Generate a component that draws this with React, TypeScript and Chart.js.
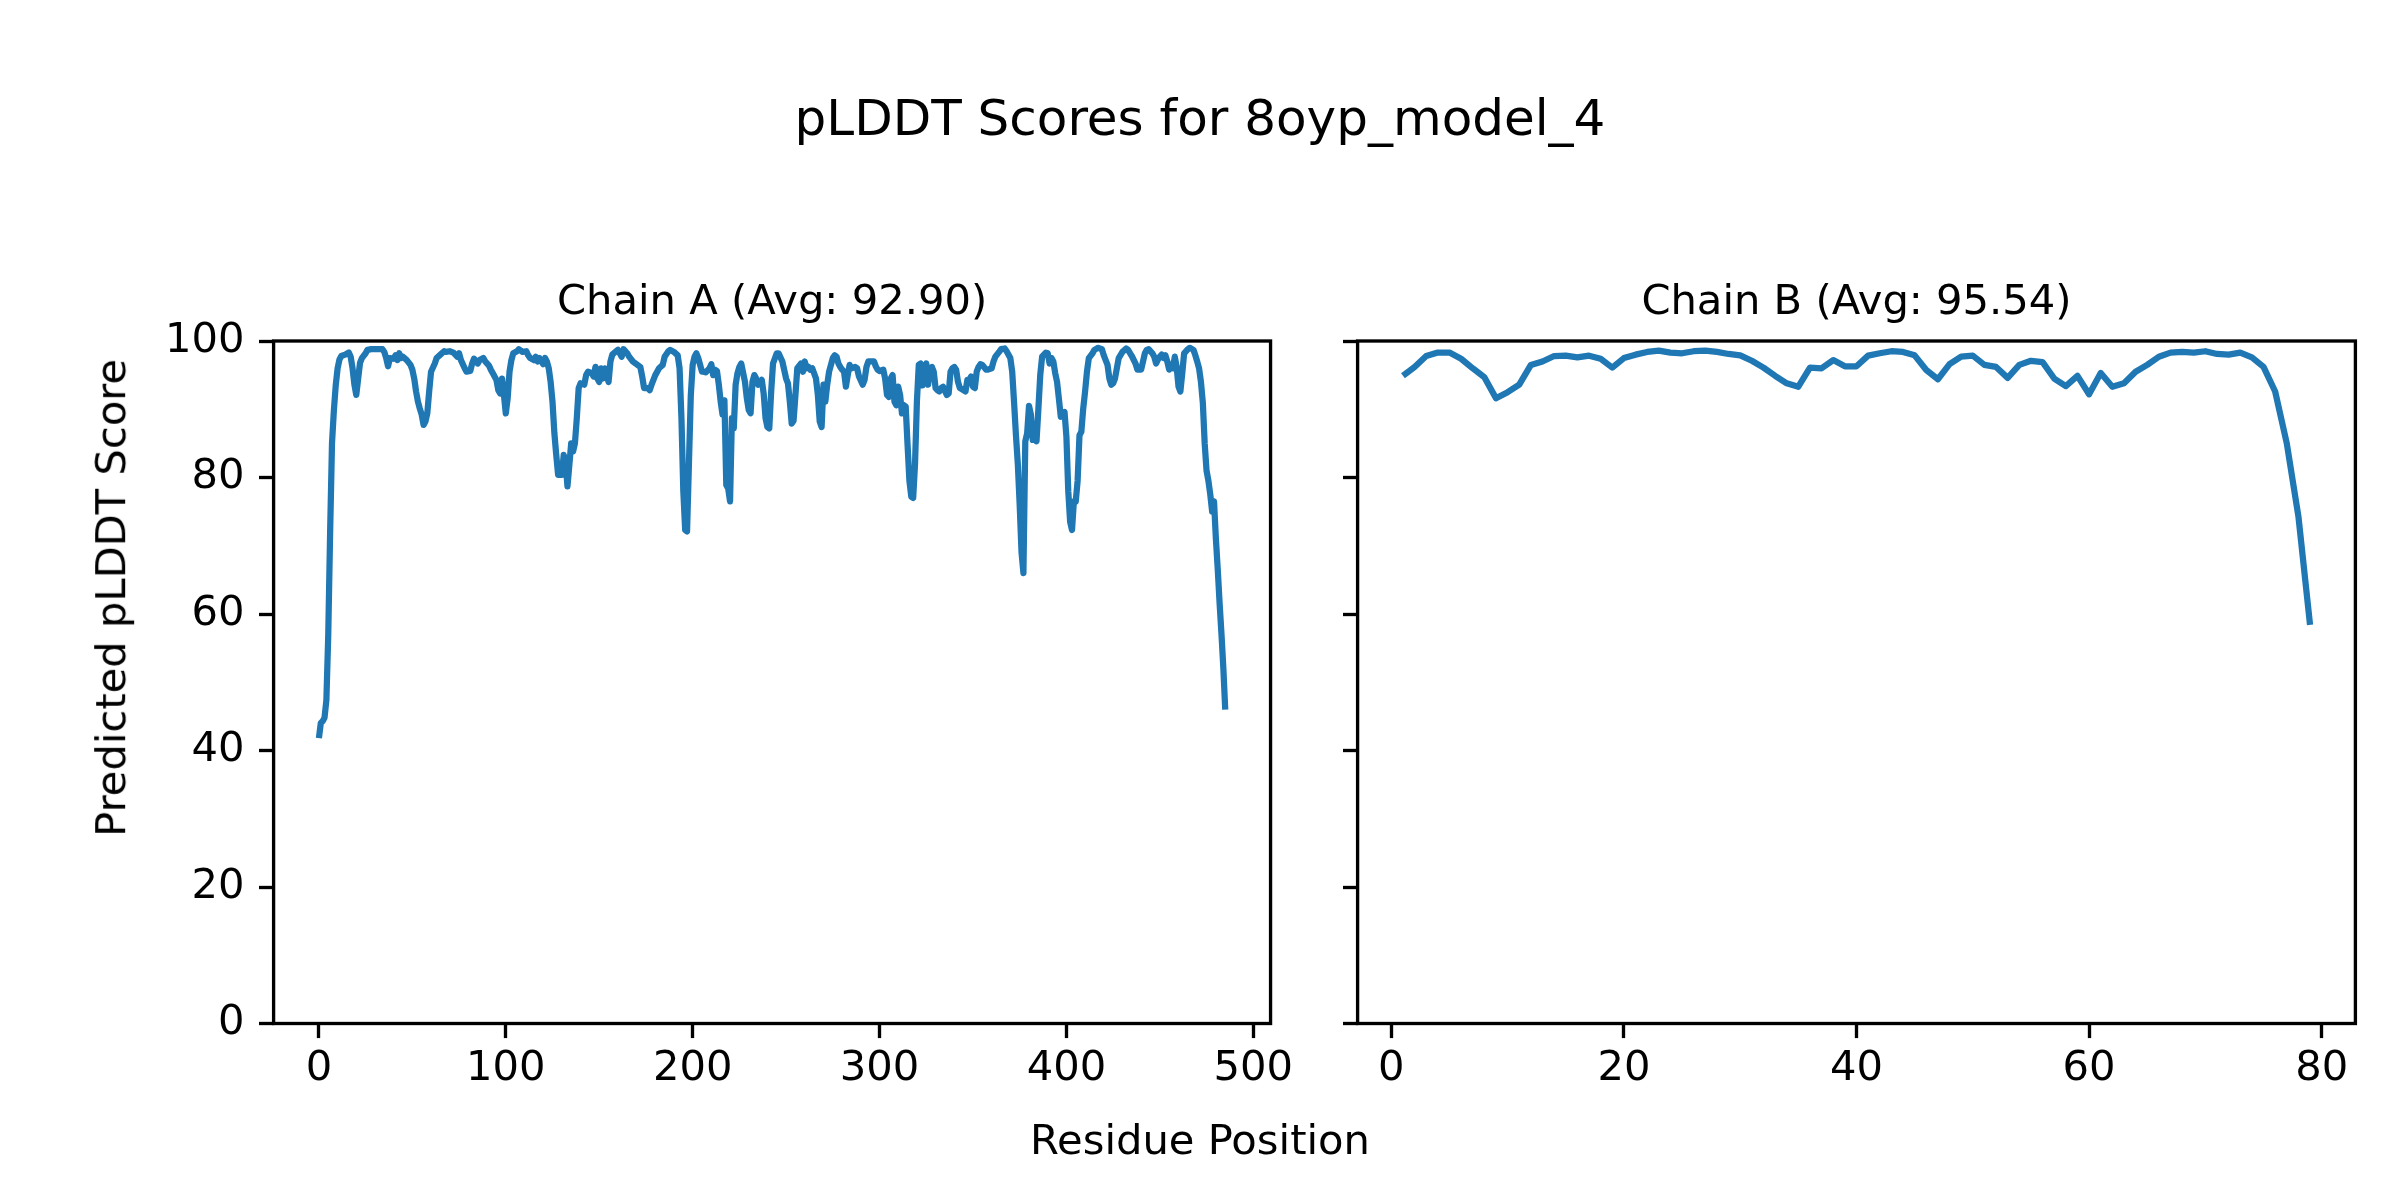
import React, { useEffect, useRef } from "react";
import { Chart, registerables } from "chart.js";

Chart.register(...registerables);

const FIG_TITLE = "pLDDT Scores for 8oyp_model_4";
const X_LABEL = "Residue Position";
const Y_LABEL = "Predicted pLDDT Score";
const chainTitles = ["Chain A (Avg: 92.90)", "Chain B (Avg: 95.54)"];
const yTicks = [0, 20, 40, 60, 80, 100];
const xTicksA = [0, 100, 200, 300, 400, 500];
const xTicksB = [0, 20, 40, 60, 80];

// Chain A: [residue position, pLDDT]
const chainA: [number, number][] = [
  [0, 41.8], [1, 44.0], [2, 44.3], [3, 44.8], [4, 47.4], [5, 57.0], [6, 72.0], [7, 85.0], [8, 89.8], [9, 93.5],
  [10, 96.0], [11, 97.3], [12, 97.8], [14, 98.0], [16, 98.3], [17, 97.7], [18, 96.0], [19, 93.6], [20, 92.1], [21, 94.5],
  [22, 96.8], [23, 97.5], [25, 98.2], [26, 98.7], [28, 98.8], [31, 98.8], [34, 98.8], [35, 98.4], [36, 97.5], [37, 96.3],
  [38, 97.5], [40, 97.4], [41, 97.9], [42, 97.2], [43, 98.2], [44, 97.5], [45, 97.7], [47, 97.2], [49, 96.5], [50, 95.8],
  [51, 94.5], [52, 92.6], [53, 91.1], [54, 90.1], [55, 89.2], [56, 87.7], [57, 88.2], [58, 89.4], [59, 92.6], [60, 95.5],
  [62, 96.7], [63, 97.5], [65, 98.0], [67, 98.5], [68, 98.4], [70, 98.5], [72, 98.3], [74, 97.7], [75, 98.2], [76, 97.2],
  [78, 96.0], [79, 95.5], [81, 95.6], [82, 96.7], [83, 97.4], [85, 96.7], [86, 97.2], [88, 97.5], [89, 97.0], [91, 96.4],
  [92, 95.8], [93, 95.3], [95, 94.3], [96, 92.8], [97, 92.3], [98, 94.5], [99, 92.1], [100, 89.4], [101, 91.6], [102, 95.5],
  [103, 97.2], [104, 98.2], [106, 98.5], [107, 98.8], [109, 98.4], [111, 98.5], [112, 97.9], [113, 97.5], [115, 97.2], [116, 97.7],
  [117, 97.0], [118, 97.5], [120, 96.6], [121, 97.5], [122, 97.0], [123, 96.0], [124, 94.0], [125, 91.1], [126, 86.5], [127, 83.3],
  [128, 80.4], [130, 80.4], [131, 83.3], [132, 82.3], [133, 78.7], [134, 81.8], [135, 85.0], [136, 83.8], [137, 85.0], [138, 88.7],
  [139, 93.1], [140, 93.8], [142, 93.6], [143, 95.0], [144, 95.5], [146, 95.3], [147, 94.8], [148, 96.2], [149, 94.5], [150, 94.0],
  [151, 96.0], [152, 94.5], [153, 96.0], [155, 94.0], [156, 97.0], [157, 98.0], [159, 98.5], [160, 98.7], [162, 97.7], [163, 98.8],
  [165, 98.2], [166, 97.7], [168, 97.0], [170, 96.6], [172, 96.2], [173, 94.8], [174, 93.1], [176, 93.1], [177, 92.8], [178, 93.6],
  [180, 95.0], [181, 95.5], [182, 96.0], [184, 96.5], [185, 97.7], [187, 98.5], [188, 98.7], [190, 98.4], [192, 97.9], [193, 96.0],
  [194, 88.7], [195, 78.0], [196, 72.3], [197, 72.1], [198, 82.0], [199, 92.0], [200, 96.5], [201, 97.7], [202, 98.2], [203, 97.5],
  [205, 95.5], [206, 95.5], [207, 95.4], [209, 96.0], [210, 96.6], [211, 95.0], [212, 95.8], [213, 95.6], [214, 93.6], [215, 91.1],
  [216, 89.2], [217, 91.3], [218, 78.9], [219, 78.4], [220, 76.5], [221, 88.7], [222, 87.2], [223, 93.6], [224, 95.3], [225, 96.2],
  [226, 96.7], [228, 94.0], [229, 91.6], [230, 89.9], [231, 89.4], [232, 94.0], [233, 95.0], [234, 94.5], [235, 93.6], [237, 94.3],
  [238, 92.3], [239, 88.7], [240, 87.4], [241, 87.2], [242, 92.5], [243, 96.7], [245, 98.2], [246, 98.2], [248, 97.0], [250, 94.5],
  [251, 93.8], [252, 91.1], [253, 87.9], [254, 88.3], [255, 92.1], [256, 96.0], [258, 96.7], [259, 95.5], [260, 97.0], [261, 96.0],
  [262, 96.2], [263, 95.8], [264, 96.0], [266, 94.5], [267, 92.1], [268, 88.2], [269, 87.4], [270, 93.6], [271, 91.1], [272, 93.6],
  [273, 95.5], [275, 97.5], [276, 97.9], [277, 97.7], [278, 96.7], [279, 96.2], [280, 95.8], [281, 95.5], [282, 93.3], [283, 95.0],
  [284, 96.5], [285, 96.0], [287, 96.2], [288, 96.0], [289, 94.8], [291, 93.6], [292, 94.3], [293, 96.2], [294, 97.0], [296, 97.0],
  [297, 97.0], [298, 96.3], [299, 95.8], [300, 95.6], [302, 95.8], [303, 94.5], [304, 92.1], [305, 91.8], [306, 94.5], [307, 95.0],
  [308, 91.1], [309, 90.6], [310, 93.3], [311, 92.1], [312, 89.4], [313, 90.6], [314, 90.4], [315, 84.8], [316, 79.5], [317, 77.2],
  [318, 77.0], [319, 82.0], [320, 91.1], [321, 96.5], [322, 96.7], [323, 93.5], [324, 96.0], [325, 96.7], [326, 93.6], [327, 96.0],
  [328, 96.2], [329, 95.5], [330, 93.1], [331, 92.8], [332, 92.6], [333, 93.1], [334, 93.3], [336, 92.1], [337, 92.3], [338, 95.5],
  [339, 96.0], [340, 96.2], [341, 95.8], [342, 94.0], [343, 93.1], [345, 92.8], [346, 92.6], [347, 94.3], [348, 94.3], [349, 94.8],
  [350, 93.3], [351, 93.1], [352, 95.5], [353, 96.2], [354, 96.6], [355, 96.5], [357, 95.8], [358, 95.8], [360, 96.0], [361, 97.0],
  [362, 97.7], [364, 98.4], [365, 98.8], [367, 98.9], [368, 98.5], [370, 97.5], [371, 95.5], [372, 91.0], [373, 86.2], [374, 82.0],
  [375, 76.0], [376, 69.0], [377, 66.0], [378, 85.3], [379, 86.5], [380, 90.5], [381, 89.2], [382, 85.5], [383, 86.2], [384, 85.3],
  [385, 90.0], [386, 95.0], [387, 97.7], [389, 98.3], [390, 98.2], [391, 96.7], [392, 97.5], [393, 97.0], [394, 95.3], [395, 94.0],
  [396, 91.5], [397, 88.9], [398, 89.4], [399, 89.6], [400, 86.0], [401, 78.0], [402, 73.5], [403, 72.3], [404, 76.5], [405, 76.5],
  [406, 79.5], [407, 86.2], [408, 86.7], [409, 90.1], [410, 92.6], [411, 95.5], [412, 97.5], [414, 98.2], [415, 98.7], [417, 99.0],
  [419, 98.8], [420, 97.9], [422, 96.5], [423, 94.5], [424, 93.6], [425, 93.8], [426, 94.5], [427, 96.0], [428, 97.5], [430, 98.4],
  [432, 98.9], [433, 98.7], [435, 97.8], [437, 96.7], [438, 95.8], [440, 95.8], [441, 97.0], [442, 98.2], [443, 98.7], [444, 98.8],
  [446, 98.2], [447, 97.7], [448, 96.7], [449, 97.3], [450, 97.7], [451, 98.0], [452, 97.5], [453, 97.9], [454, 97.0], [455, 95.8],
  [456, 96.5], [457, 96.0], [458, 97.7], [459, 96.2], [460, 93.3], [461, 92.6], [462, 95.3], [463, 98.2], [465, 98.8], [466, 99.0],
  [468, 98.7], [469, 97.9], [470, 97.0], [471, 96.0], [472, 94.0], [473, 91.0], [474, 85.0], [475, 81.0], [476, 79.5], [477, 77.5],
  [478, 75.0], [479, 76.5], [480, 71.0], [481, 66.5], [482, 61.5], [483, 57.0], [484, 52.0], [485, 46.0],
];

const chainBPos = [
  1, 2, 3, 4, 5, 6, 7, 8, 9, 10, 11, 12, 13, 14, 15, 16, 17, 18, 19, 20,
  21, 22, 23, 24, 25, 26, 27, 28, 29, 30, 31, 32, 33, 34, 35, 36, 37, 38, 39, 40,
  41, 42, 43, 44, 45, 46, 47, 48, 49, 50, 51, 52, 53, 54, 55, 56, 57, 58, 59, 60,
  61, 62, 63, 64, 65, 66, 67, 68, 69, 70, 71, 72, 73, 74, 75, 76, 77, 78, 79,
];
const chainBScore = [
  94.9, 96.2, 97.8, 98.3, 98.3, 97.4, 96.0, 94.7, 91.6, 92.5, 93.6, 96.5, 97.0, 97.8, 97.85, 97.6, 97.85, 97.4, 96.1, 97.5,
  98.0, 98.4, 98.6, 98.3, 98.2, 98.5, 98.6, 98.4, 98.1, 97.9, 97.1, 96.1, 94.9, 93.8, 93.3, 96.1, 96.0, 97.2, 96.3, 96.3,
  97.85, 98.2, 98.5, 98.4, 97.9, 95.75, 94.4, 96.6, 97.7, 97.85, 96.5, 96.2, 94.6, 96.5, 97.1, 96.9, 94.5, 93.4, 94.9, 92.2,
  95.3, 93.3, 93.8, 95.5, 96.5, 97.7, 98.3, 98.4, 98.3, 98.5, 98.1, 98.0, 98.3, 97.6, 96.2, 92.6, 85.0, 74.3, 58.4,
];

const PT = 300 / 72;
const FONT = '"DejaVu Sans", sans-serif';
const LABEL_PX = 10 * PT;
const LINE_COLOR = "#1f77b4";

const framePlugin = {
  id: "frame",
  afterDraw(chart: any, _args: any, opts: any) {
    const { ctx, chartArea: a } = chart;
    ctx.save();
    ctx.strokeStyle = "#000";
    ctx.lineWidth = 0.8 * PT;
    ctx.strokeRect(a.left, a.top, a.right - a.left, a.bottom - a.top);
    ctx.fillStyle = "#000";
    ctx.font = `${LABEL_PX}px ${FONT}`;
    ctx.textAlign = "center";
    ctx.textBaseline = "alphabetic";
    ctx.fillText(opts.title, (a.left + a.right) / 2, 314);
    ctx.restore();
  },
};

function makeConfig(
  points: { x: number; y: number }[],
  title: string,
  xMin: number,
  xMax: number,
  xTicks: number[],
  yAxisWidth: number,
  padRight: number,
  showYLabels: boolean
): any {
  const tickFont = { family: FONT, size: LABEL_PX, lineHeight: 1.2 };
  const grid = {
    display: true,
    drawOnChartArea: false,
    drawTicks: true,
    tickLength: 3.5 * PT,
    tickWidth: 0.8 * PT,
    tickColor: "#000",
  };
  return {
    type: "line",
    data: {
      datasets: [
        {
          data: points,
          borderColor: LINE_COLOR,
          backgroundColor: LINE_COLOR,
          borderWidth: 1.5 * PT,
          pointRadius: 0,
          pointHoverRadius: 0,
          tension: 0,
          fill: false,
          borderJoinStyle: "round",
          borderCapStyle: "butt",
        },
      ],
    },
    options: {
      responsive: false,
      animation: false,
      devicePixelRatio: 1,
      events: [],
      layout: { padding: { left: 0, top: 341, right: padRight, bottom: 1200 - 1023.5 - 100 } },
      plugins: {
        legend: { display: false },
        tooltip: { enabled: false },
        title: { display: false },
        frame: { title },
      },
      scales: {
        x: {
          type: "linear",
          min: xMin,
          max: xMax,
          afterBuildTicks: (s: any) => {
            s.ticks = xTicks.map((v) => ({ value: v }));
          },
          afterFit: (s: any) => {
            s.height = 100;
          },
          grid,
          border: { display: false },
          ticks: {
            autoSkip: false,
            maxRotation: 0,
            minRotation: 0,
            padding: 6.5,
            color: "#000",
            font: tickFont,
          },
        },
        y: {
          type: "linear",
          min: 0,
          max: 100,
          afterBuildTicks: (s: any) => {
            s.ticks = yTicks.map((v) => ({ value: v }));
          },
          afterFit: (s: any) => {
            s.width = yAxisWidth;
          },
          grid,
          border: { display: false },
          ticks: {
            padding: 3.5 * PT,
            color: "#000",
            font: tickFont,
            callback: (v: any) => (showYLabels ? String(v) : ""),
          },
        },
      },
    },
    plugins: [framePlugin],
  };
}

export default function App() {
  const refA = useRef<HTMLCanvasElement>(null);
  const refB = useRef<HTMLCanvasElement>(null);

  useEffect(() => {
    document.body.style.margin = "0";
    const ptsA = chainA.map(([x, y]) => ({ x, y }));
    const ptsB = chainBPos.map((x, i) => ({ x, y: chainBScore[i] }));
    const cA = new Chart(
      refA.current as HTMLCanvasElement,
      makeConfig(ptsA, chainTitles[0], -24.25, 509.25, xTicksA, 273.6, 1300 - 1272.7, true)
    );
    const cB = new Chart(
      refB.current as HTMLCanvasElement,
      makeConfig(ptsB, chainTitles[1], -2.9, 82.9, xTicksB, 1357.6 - 1300, 1100 - (2355.4 - 1300), false)
    );
    return () => {
      cA.destroy();
      cB.destroy();
    };
  }, []);

  const textBase: React.CSSProperties = {
    position: "absolute",
    fontFamily: FONT,
    color: "#000",
    whiteSpace: "nowrap",
    textAlign: "center",
  };

  return (
    <div style={{ position: "relative", width: 2400, height: 1200, background: "#fff", overflow: "hidden" }}>
      <canvas ref={refA} width={1300} height={1200} style={{ position: "absolute", left: 0, top: 0, width: 1300, height: 1200 }} />
      <canvas ref={refB} width={1100} height={1200} style={{ position: "absolute", left: 1300, top: 0, width: 1100, height: 1200 }} />
      <div style={{ ...textBase, left: 0, width: 2400, top: 135 - 42.3, fontSize: 12 * PT, lineHeight: `${12 * PT}px` }}>{FIG_TITLE}</div>
      <div style={{ ...textBase, left: 0, width: 2400, top: 1154 - 35.3, fontSize: LABEL_PX, lineHeight: `${LABEL_PX}px` }}>{X_LABEL}</div>
      <div
        style={{
          ...textBase,
          left: 111 - 350,
          width: 700,
          top: 598 - LABEL_PX / 2,
          height: LABEL_PX,
          fontSize: LABEL_PX,
          lineHeight: `${LABEL_PX}px`,
          transform: "rotate(-90deg)",
          transformOrigin: "50% 50%",
        }}
      >
        {Y_LABEL}
      </div>
    </div>
  );
}
